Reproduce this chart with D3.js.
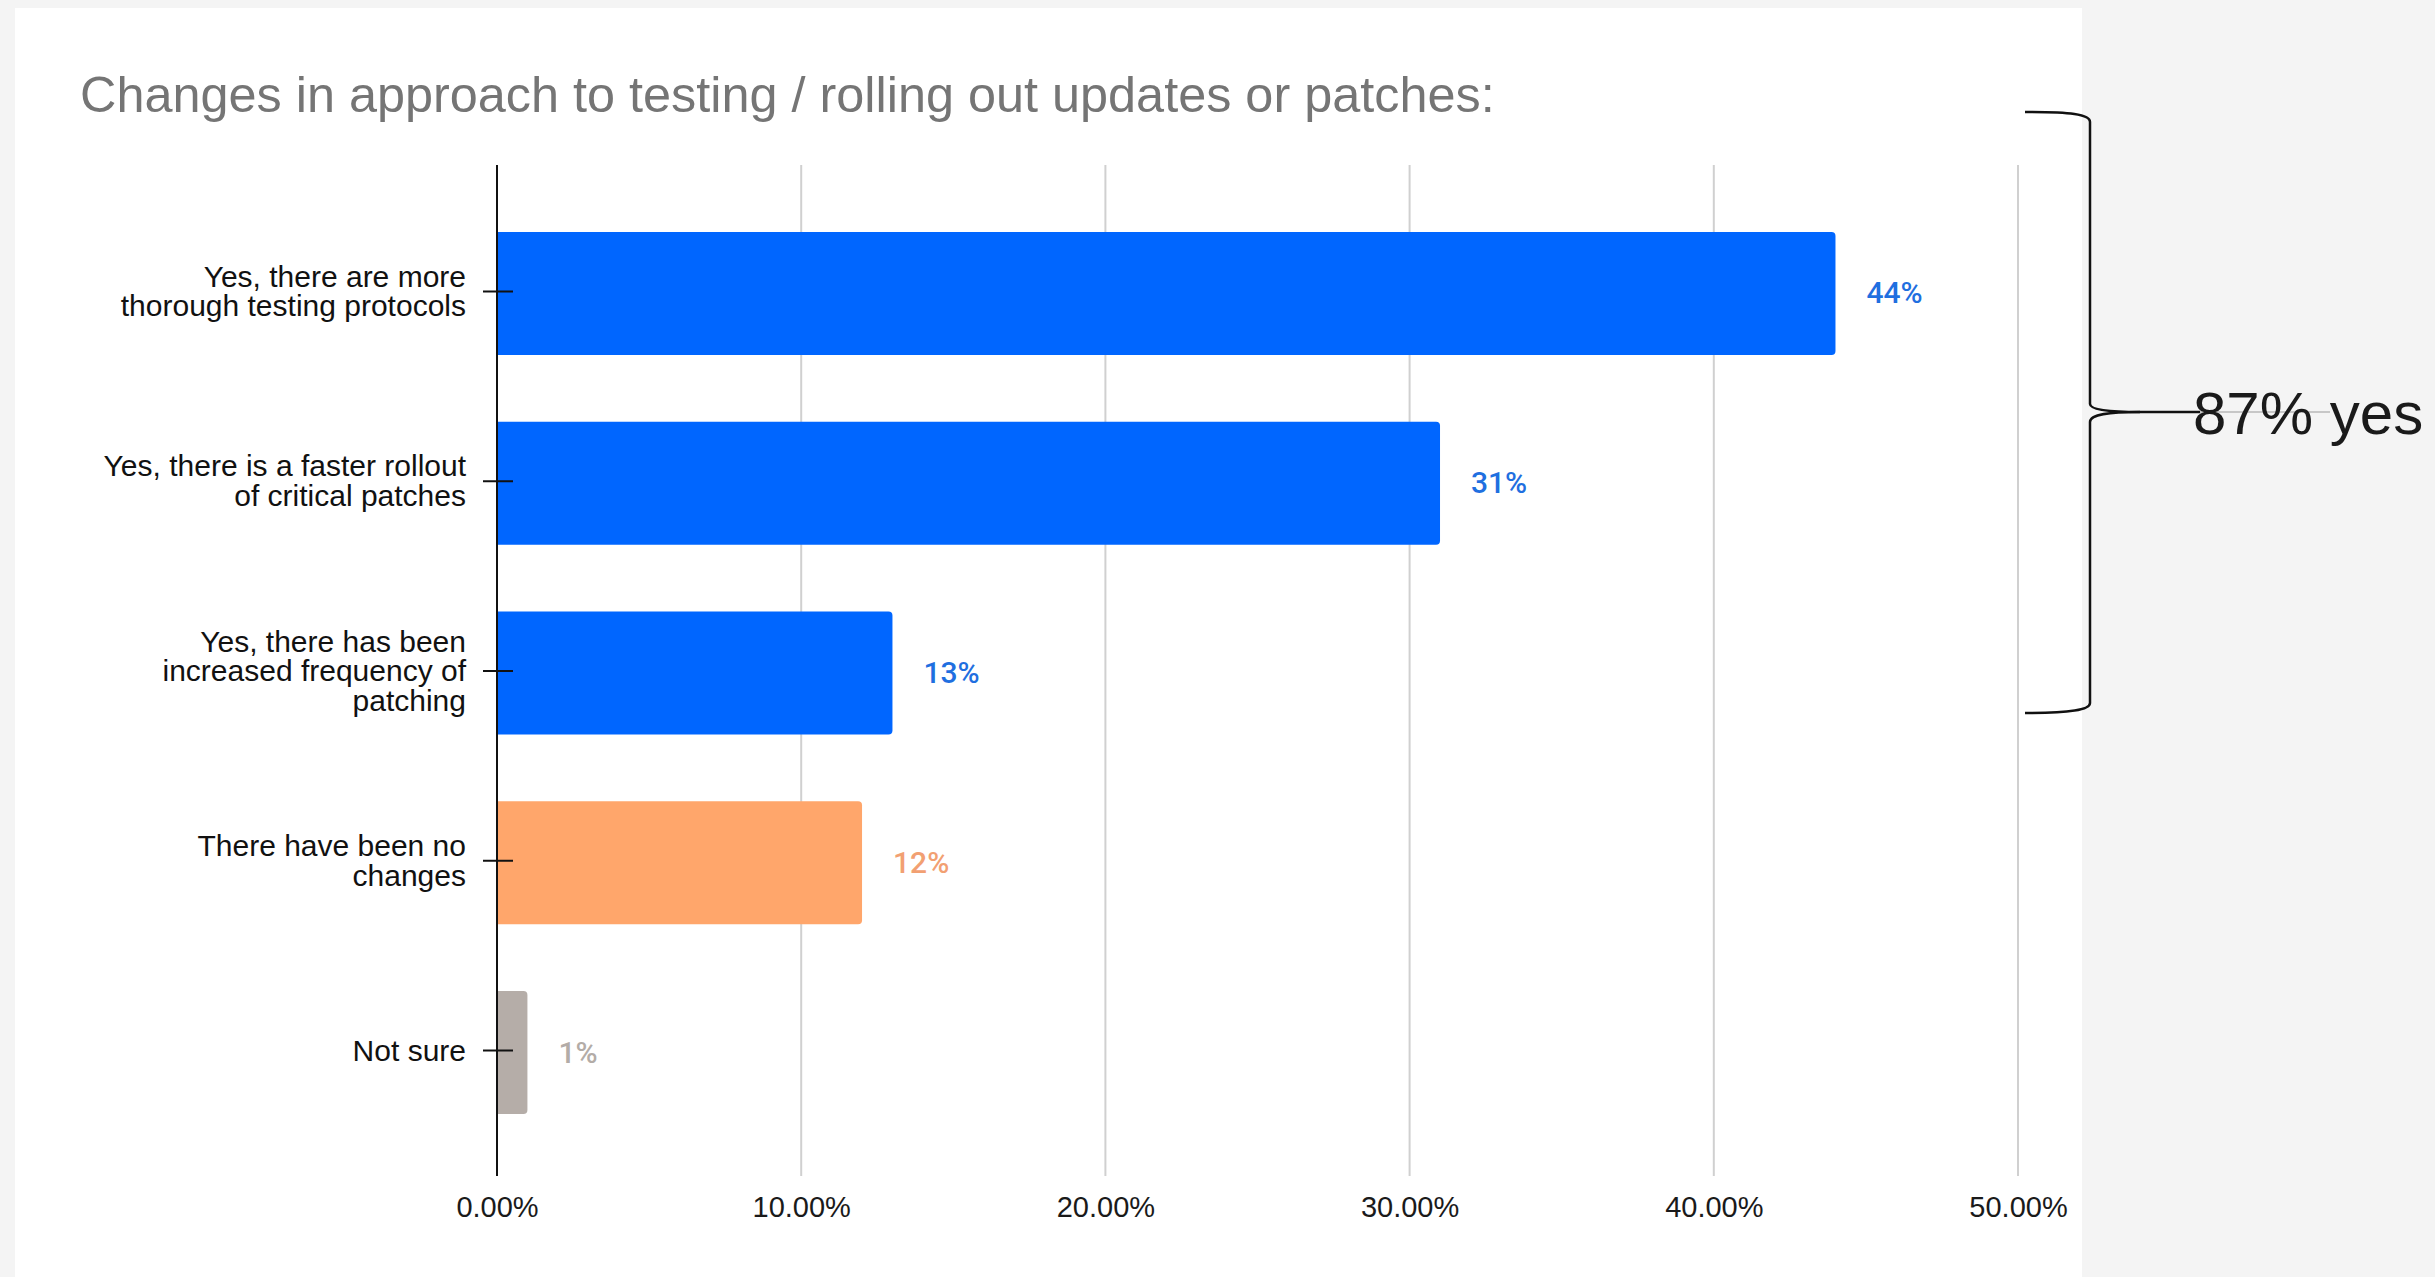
<!DOCTYPE html>
<html>
<head>
<meta charset="utf-8">
<script src="https://cdn.jsdelivr.net/npm/d3@7"></script>
<style>
  html, body { margin: 0; padding: 0; background: #f4f4f4; }
  svg { display: block; }
</style>
</head>
<body>
<svg id="chart" width="2435" height="1277"></svg>
<script>
// ---- Data ----
const categories = [
  ["Yes, there are more", "thorough testing protocols"],
  ["Yes, there is a faster rollout", "of critical patches"],
  ["Yes, there has been", "increased frequency of", "patching"],
  ["There have been no", "changes"],
  ["Not sure"]
];
const values = [0.44, 0.31, 0.13, 0.12, 0.01];
const valueLabels = ["44%", "31%", "13%", "12%", "1%"];
const barColors = ["#0066ff", "#0066ff", "#0066ff", "#ffa66b", "#b5ada8"];
const labelColors = ["#1f6fe0", "#1f6fe0", "#1f6fe0", "#f2a072", "#b3aca7"];
const tickValues = [0, 0.1, 0.2, 0.3, 0.4, 0.5];
const title = "Changes in approach to testing / rolling out updates or patches:";
const annotation = "87% yes";

// ---- Layout ----
const svg = d3.select("#chart");
svg.append("rect").attr("x", 15).attr("y", 8).attr("width", 2067).attr("height", 1269).attr("fill", "#ffffff");

const x = d3.scaleLinear().domain([0, 0.5]).range([497, 2018]);
const y = d3.scaleBand().domain(d3.range(categories.length)).range([167.5, 1178.5])
  .paddingInner(0.352).paddingOuter(0.34);

// Title
svg.append("text").attr("x", 80).attr("y", 112)
  .attr("font-family", "'Liberation Sans', Arial, sans-serif").attr("font-size", 50.4)
  .attr("fill", "#757575").text(title);

// Gridlines
svg.append("g").selectAll("line").data(tickValues.filter(d => d > 0)).join("line")
  .attr("x1", d => x(d)).attr("x2", d => x(d))
  .attr("y1", 165).attr("y2", 1176)
  .attr("stroke", "#d0d0d0").attr("stroke-width", 2);

// X axis labels
const xAxis = d3.axisBottom(x).tickValues(tickValues).tickFormat(d3.format(".2%")).tickSize(0).tickPadding(0);
const gx = svg.append("g").attr("transform", "translate(0,1176)").call(xAxis);
gx.select(".domain").remove();
gx.selectAll("text").attr("dy", null).attr("y", 41)
  .attr("font-family", "'Liberation Sans', Arial, sans-serif").attr("font-size", 29).attr("fill", "#1a1a1a");

// Bars (rounded right corners)
const r = 4;
function barPath(i) {
  const x0 = x(0), x1 = x(values[i]), y0 = y(i), h = y.bandwidth();
  return `M${x0},${y0} H${x1 - r} Q${x1},${y0} ${x1},${y0 + r} V${y0 + h - r} Q${x1},${y0 + h} ${x1 - r},${y0 + h} H${x0} Z`;
}
svg.append("g").selectAll("path").data(values).join("path")
  .attr("d", (d, i) => barPath(i)).attr("fill", (d, i) => barColors[i]);

// Value labels
svg.append("g").selectAll("text").data(values).join("text")
  .attr("x", d => x(d) + 31).attr("y", (d, i) => y(i) + y.bandwidth() / 2 + 10)
  .attr("font-family", "Roboto, sans-serif").attr("font-size", 30).attr("font-weight", 500)
  .attr("fill", (d, i) => labelColors[i]).text((d, i) => valueLabels[i]);

// Y axis line
svg.append("line").attr("x1", x(0)).attr("x2", x(0)).attr("y1", 165).attr("y2", 1176)
  .attr("stroke", "#111").attr("stroke-width", 2);

// Y ticks and labels
const gy = svg.append("g");
categories.forEach((lines, i) => {
  const cy = y(i) + y.bandwidth() / 2 - 2;
  gy.append("line").attr("x1", x(0) - 14).attr("x2", x(0) + 16).attr("y1", cy).attr("y2", cy)
    .attr("stroke", "#111").attr("stroke-width", 2);
  const t = gy.append("text").attr("text-anchor", "end")
    .attr("font-family", "'Liberation Sans', Arial, sans-serif").attr("font-size", 30).attr("fill", "#111");
  lines.forEach((ln, j) => {
    t.append("tspan").attr("x", 466).attr("y", cy + 10 + (j - (lines.length - 1) / 2) * 29.5).text(ln);
  });
});

// Bracket annotation
const br = svg.append("g").attr("fill", "none").attr("stroke", "#111").attr("stroke-width", 2.5);
br.append("path").attr("d", "M2025,112 C2070,112 2090,114 2090,122 L2090,404 C2090,410 2110,412 2140,412 L2200,412");
br.append("path").attr("d", "M2140,412 C2110,412 2090,414 2090,422 L2090,703 C2090,710 2070,713 2025,713");
svg.append("line").attr("x1", 2200).attr("x2", 2330).attr("y1", 412).attr("y2", 412)
  .attr("stroke", "#999").attr("stroke-width", 1.2);
svg.append("text").attr("x", 2193).attr("y", 434)
  .attr("font-family", "'Liberation Sans', Arial, sans-serif").attr("font-size", 60).attr("fill", "#1a1a1a")
  .text(annotation);
</script>
</body>
</html>
